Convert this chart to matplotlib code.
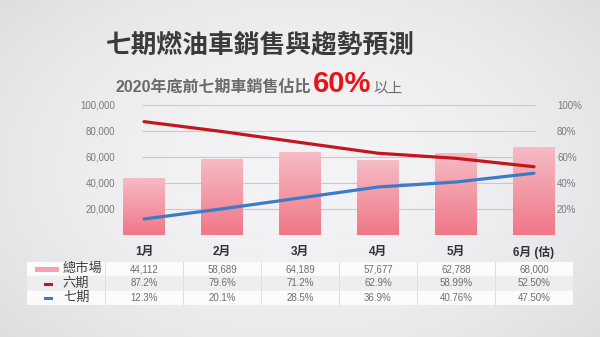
import numpy as np
import matplotlib.pyplot as plt
from matplotlib.colors import LinearSegmentedColormap

plt.rcParams['font.family'] = ['Liberation Sans', 'Noto Sans CJK TC', 'DejaVu Sans']

months = ['1月', '2月', '3月', '4月', '5月', '6月 (估)']
market = [44112, 58689, 64189, 57677, 62788, 68000]
share6 = [87.2, 79.6, 71.2, 62.9, 58.99, 52.50]
share7 = [12.3, 20.1, 28.5, 36.9, 40.76, 47.50]
market_txt = ['44,112', '58,689', '64,189', '57,677', '62,788', '68,000']
share6_txt = ['87.2%', '79.6%', '71.2%', '62.9%', '58.99%', '52.50%']
share7_txt = ['12.3%', '20.1%', '28.5%', '36.9%', '40.76%', '47.50%']

W, H = 600, 337
fig = plt.figure(figsize=(W / 100, H / 100), dpi=100)

# soft grey backdrop, lighter toward the middle
bg = fig.add_axes([0, 0, 1, 1])
yy, xx = np.mgrid[-1:1:200j, -1:1:300j]
shade = 0.955 - 0.05 * (xx ** 2) - 0.035 * (yy ** 2)
bg.imshow(np.dstack([shade, shade, shade + 0.01]).clip(0, 1),
          aspect='auto', extent=[0, 1, 0, 1])
bg.set_axis_off()


def px(x0, y0, x1, y1):
    return [x0 / W, 1 - y1 / H, (x1 - x0) / W, (y1 - y0) / H]


# main chart
ax = fig.add_axes(px(105, 105, 573, 235))
ax.patch.set_alpha(0)
x = np.arange(len(months))
ax.hlines(np.arange(0, 100001, 20000), -0.03, 5.01, color='#c9c9cd', lw=0.8, zorder=1)

bars = ax.bar(x, market, width=0.53, color='none', zorder=2)
pink = LinearSegmentedColormap.from_list('pink', ['#f07787', '#f6bcc5'])
grad = np.linspace(0, 1, 100).reshape(-1, 1)
for b in bars:
    bx, by = b.get_x(), b.get_y()
    im = ax.imshow(grad, cmap=pink, origin='lower', aspect='auto', zorder=2,
                   extent=[bx, bx + b.get_width(), by, by + b.get_height()])
    im.set_clip_path(b)
ax.set_xlim(-0.5, 5.5)
ax.set_ylim(0, 100000)

ax.set_yticks(np.arange(20000, 100001, 20000))
ax.set_yticklabels([f'{v:,}' for v in range(20000, 100001, 20000)])
ax.tick_params(axis='y', length=0, pad=-7.2, labelsize=7, labelcolor='#7a7a7a')
ax.set_xticks(x)
ax.set_xticklabels(months, fontsize=8.5, fontweight='bold', color='#333333')
ax.tick_params(axis='x', length=0, pad=8)
for s in ax.spines.values():
    s.set_visible(False)

ax2 = ax.twinx()
ax2.set_ylim(0, 100)
ax2.plot(x, share6, color='#c3161f', lw=2.3, solid_capstyle='round', zorder=3)
ax2.plot(x, share7, color='#3b7bc8', lw=2.3, solid_capstyle='round', zorder=3)
ax2.set_yticks(np.arange(20, 101, 20))
ax2.set_yticklabels([f'{v}%' for v in range(20, 101, 20)])
ax2.tick_params(axis='y', length=0, pad=-11.5, labelsize=7, labelcolor='#7a7a7a')
for s in ax2.spines.values():
    s.set_visible(False)

# titles
fig.text(260 / W, 1 - 45 / H, '七期燃油車銷售與趨勢預測', ha='center', va='center',
         fontsize=18.5, fontweight='bold', color='#3a3a3a')

r = fig.canvas.get_renderer()
base = 1 - 92 / H
t1 = fig.text(115 / W, base, '2020年底前七期車銷售佔比', ha='left', va='baseline',
              fontsize=11.5, fontweight='bold', color='#6b6b6b')
e1 = t1.get_window_extent(r)
t2 = fig.text((e1.x1 + 2) / W, base, '60%', ha='left', va='baseline',
              fontsize=21, fontweight='bold', color='#e8141c')
e2 = t2.get_window_extent(r)
fig.text((e2.x1 + 3) / W, base, '以上', ha='left', va='baseline',
         fontsize=10.5, color='#6b6b6b')

# data table under the chart
tab = fig.add_axes(px(27, 262, 573, 305))
tab.set_xlim(-1.5, 5.5)
tab.set_ylim(3, 0)
tab.set_axis_off()
for i, c in enumerate(['#fbfbfc', '#eeeef1', '#fbfbfc']):
    tab.axhspan(i, i + 1, color=c, zorder=0)
for xv in np.arange(-0.5, 5.0, 1):
    tab.axvline(xv, color='#dedee2', lw=0.7, zorder=1)

rows = [market_txt, share6_txt, share7_txt]
for i, row in enumerate(rows):
    for j, s in enumerate(row):
        tab.text(j, i + 0.5, s, ha='center', va='center', fontsize=7, color='#6e6e6e')

tab.fill_between([-1.40, -1.09], 0.36, 0.68, color='#f3a2ae', lw=0)
tab.plot([-1.27, -1.19], [1.5, 1.5], color='#c3161f', lw=2.2)
tab.plot([-1.27, -1.19], [2.5, 2.5], color='#3b7bc8', lw=2.2)
for i, lab in enumerate(['總市場', '六期', '七期']):
    tab.text(-1.04, i + 0.5, lab, ha='left', va='center', fontsize=9.5, color='#404040')

fig.savefig('out.png', dpi=100)
